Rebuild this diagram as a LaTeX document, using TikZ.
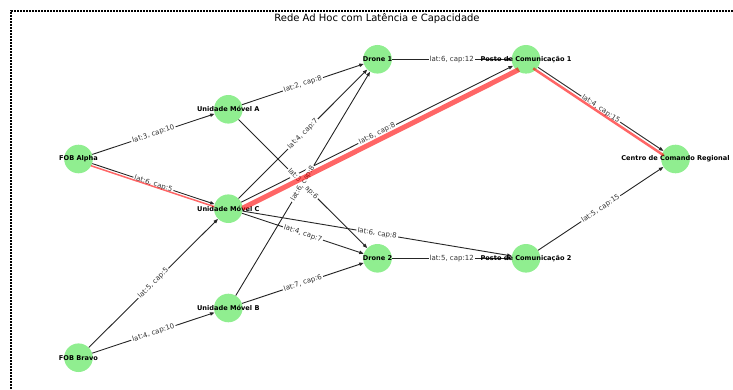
\documentclass[tikz,border=0pt]{standalone}
\usepackage{fontspec}
\setmainfont{DejaVu Sans}
\usetikzlibrary{arrows.meta,calc}
\definecolor{nodegreen}{HTML}{90EE90}
\begin{document}
\begin{tikzpicture}[x=1pt,y=1pt,
  vtx/.style={circle,fill=nodegreen,minimum size=28.6pt,inner sep=0pt},
  vlabel/.style={font=\bfseries\fontsize{6.6}{7}\selectfont,inner sep=0pt},
  edge/.style={draw=black!85,line width=0.9pt,-{Triangle[length=4.5pt,width=3.4pt]}},
  elabel/.style={font=\fontsize{7}{8}\selectfont,text=black!80,fill=white,inner sep=1.2pt,sloped,midway},
  hl/.style={draw=red,draw opacity=0.6},
  frame/.style={line width=2pt,dash pattern=on 2pt off 1pt}
]
\useasboundingbox (0,0) rectangle (733,389);
\draw[frame] (11,0) -- (11,378) -- (733,378);
\node (title) at (377,370) {\fontsize{10}{12}\selectfont Rede Ad Hoc com Latência e Capacidade};
% nodes
\node[vtx] (FA) at (78.5,230) {};
\node[vtx] (FB) at (78.5,31.3) {};
\node[vtx] (UA) at (228.3,279.7) {};
\node[vtx] (UC) at (228.3,180.3) {};
\node[vtx] (UB) at (228.3,81) {};
\node[vtx] (D1) at (377.5,329.7) {};
\node[vtx] (D2) at (377.5,130.7) {};
\node[vtx] (P1) at (526,329.7) {};
\node[vtx] (P2) at (526,130.7) {};
\node[vtx] (CC) at (675.5,230) {};
% edges
\draw[edge] (FA) -- (UA);
\draw[edge] (FA) -- (UC);
\draw[edge] (FB) -- (UC);
\draw[edge] (FB) -- (UB);
\draw[edge] (UA) -- (D1);
\draw[edge] (UA) -- (D2);
\draw[edge] (UC) -- (D1);
\draw[edge] (UC) -- (D2);
\draw[edge] (UC) -- (P1);
\draw[edge] (UC) -- (P2);
\draw[edge] (UB) -- (D1);
\draw[edge] (UB) -- (D2);
\draw[edge] (D1) -- (P1);
\draw[edge] (D2) -- (P2);
\draw[edge] (P1) -- (CC);
\draw[edge] (P2) -- (CC);
% node labels
\node[vlabel] (FAt) at (FA) {FOB Alpha};
\node[vlabel] (FBt) at (FB) {FOB Bravo};
\node[vlabel] (UAt) at (UA) {Unidade Móvel A};
\node[vlabel] (UCt) at (UC) {Unidade Móvel C};
\node[vlabel] (UBt) at (UB) {Unidade Móvel B};
\node[vlabel] (D1t) at (D1) {Drone 1};
\node[vlabel] (D2t) at (D2) {Drone 2};
\node[vlabel] (P1t) at (P1) {Posto de Comunicação 1};
\node[vlabel] (P2t) at (P2) {Posto de Comunicação 2};
\node[vlabel] (CCt) at (CC) {Centro de Comando Regional};
% edge labels
\path (FA) -- node[elabel] (l1) {lat:3, cap:10} (UA);
\path (FA) -- node[elabel] (l2) {lat:6, cap:5} (UC);
\path (FB) -- node[elabel] (l3) {lat:5, cap:5} (UC);
\path (FB) -- node[elabel] (l4) {lat:4, cap:10} (UB);
\path (UA) -- node[elabel] (l5) {lat:2, cap:8} (D1);
\path (UA) -- node[elabel] (l6) {lat:3, cap:6} (D2);
\path (UC) -- node[elabel] (l7) {lat:4, cap:7} (D1);
\path (UC) -- node[elabel] (l8) {lat:4, cap:7} (D2);
\path (UC) -- node[elabel] (l9) {lat:6, cap:8} (P1);
\path (UC) -- node[elabel] (l10) {lat:6, cap:8} (P2);
\path (UB) -- node[elabel] (l11) {lat:6, cap:8} (D1);
\path (UB) -- node[elabel] (l12) {lat:7, cap:6} (D2);
\path (D1) -- node[elabel] (l13) {lat:6, cap:12} (P1);
\path (D2) -- node[elabel] (l14) {lat:5, cap:12} (P2);
\path (P1) -- node[elabel] (l15) {lat:4, cap:15} (CC);
\path (P2) -- node[elabel] (l16) {lat:5, cap:15} (CC);
% highlighted path
\draw[hl,line width=1.5pt] ($(FA.center)!14pt!(UC.center)!2.5pt!-90:(UC.center)$) -- ($(UC.center)!14pt!(FA.center)!2.5pt!90:(FA.center)$);
\draw[hl,line width=5pt] ($(UC.center)!13pt!(P1.center)!6pt!-90:(P1.center)$) -- ($(P1.center)!11pt!(UC.center)!6pt!90:(UC.center)$);
\draw[hl,line width=2.5pt] ($(P1.center)!11pt!(CC.center)!3.5pt!-90:(CC.center)$) -- ($(CC.center)!12pt!(P1.center)!3.5pt!90:(P1.center)$);
\end{tikzpicture}
\end{document}
